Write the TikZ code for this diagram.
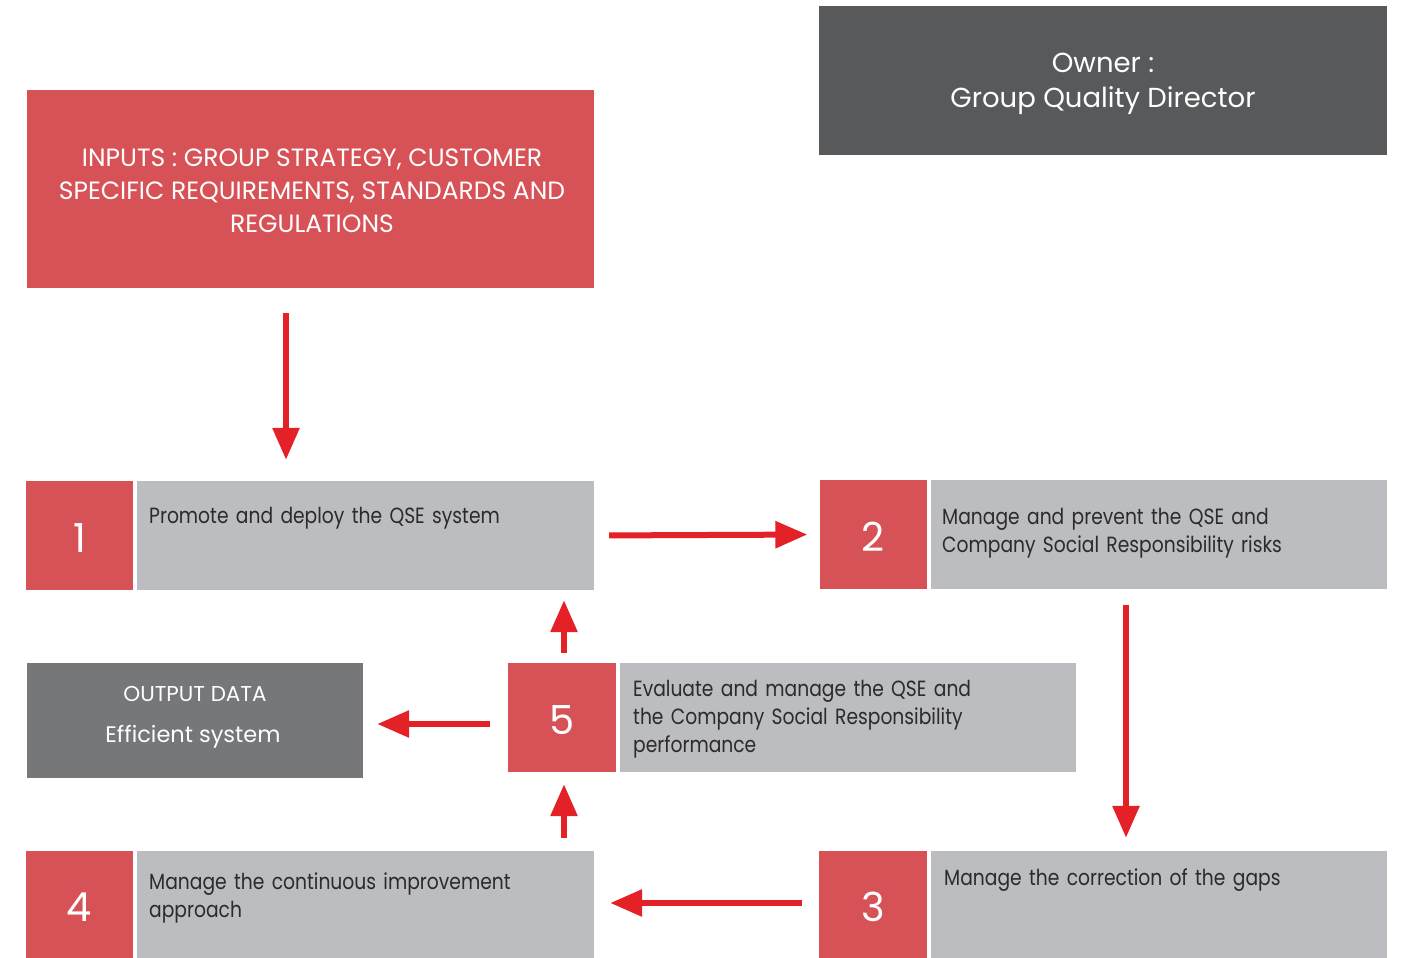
\documentclass[tikz,border=0pt]{standalone}
\usepackage{fontspec}
\setmainfont{Poppins}
\newfontfamily\descfont[FakeStretch=0.85]{Poppins}
\usetikzlibrary{arrows.meta}
\definecolor{boxred}{HTML}{D75257}
\definecolor{arrred}{HTML}{E42127}
\definecolor{darkg}{HTML}{58595B}
\definecolor{midg}{HTML}{767779}
\definecolor{lightg}{HTML}{BCBDC0}
\definecolor{txt}{HTML}{2B2A2C}
\tikzset{
  numbox/.style={fill=boxred, text=white, inner sep=0, minimum width=107pt, minimum height=109pt, text height=33pt, text depth=0pt, font=\fontsize{40}{40}\selectfont},
  graybox/.style={fill=lightg, inner sep=0, minimum width=457pt, minimum height=109pt},
  desc/.style={anchor=base west, inner sep=0, text=txt, align=left, text width=430pt, font=\descfont\fontsize{22}{28}\selectfont},
  arr/.style={draw=arrred, line width=6pt, -{Triangle[width=26pt,length=32pt]}},
}
\begin{document}
\begin{tikzpicture}[x=1pt,y=-1pt]
\useasboundingbox (0,0) rectangle (1401,958);
% header boxes
\node[fill=darkg, inner sep=0, minimum width=568pt, minimum height=149pt] (owner) at (1103,80.5) {};
\node[text=white, inner sep=0, align=center, font=\fontsize{27.5}{35}\selectfont] (ownertext) at (1103,84) {Owner :\\Group Quality Director};
\node[fill=boxred, inner sep=0, minimum width=567pt, minimum height=198pt] (inputs) at (310.5,189) {};
\node[text=white, inner sep=0, align=center, font=\fontsize{25}{33}\selectfont] (inputstext) at (312,191) {INPUTS : GROUP STRATEGY, CUSTOMER\\SPECIFIC REQUIREMENTS, STANDARDS AND\\REGULATIONS};
% step 1
\node[numbox] (n1) at (79.5,535.5) {1};
\node[graybox] (t1) at (365.5,535.5) {};
\node[desc] (d1) at (149,523) {Promote and deploy the QSE system};
% step 2
\node[numbox] (n2) at (873,534.5) {2};
\node[graybox, minimum width=456pt] (t2) at (1159,534.5) {};
\node[desc] (d2) at (942,524) {Manage and prevent the QSE and\\Company Social Responsibility risks};
% step 3
\node[numbox, minimum width=108pt, minimum height=107pt] (n3) at (873,904.5) {3};
\node[graybox, minimum width=456pt, minimum height=107pt] (t3) at (1159,904.5) {};
\node[desc] (d3) at (944,885) {Manage the correction of the gaps};
% step 4
\node[numbox, minimum height=107pt] (n4) at (79.5,904.5) {4};
\node[graybox, minimum height=107pt] (t4) at (365.5,904.5) {};
\node[desc] (d4) at (149,889.5) {Manage the continuous improvement\\approach};
% step 5
\node[numbox, minimum width=108pt] (n5) at (562,717.5) {5};
\node[graybox, minimum width=456pt] (t5) at (848,717.5) {};
\node[desc] (d5) at (633,696.5) {Evaluate and manage the QSE and\\the Company Social Responsibility\\performance};
% output
\node[fill=midg, inner sep=0, minimum width=336pt, minimum height=115pt] (out) at (195,720.5) {};
\node[text=white, inner sep=0, font=\fontsize{21.5}{21.5}\selectfont] (o1) at (195,694) {OUTPUT DATA};
\node[text=white, inner sep=0, font=\fontsize{22.5}{22.5}\selectfont] (o2) at (193,737) {Efficient system};
% arrows
\draw[arr, shorten <=25pt, shorten >=21pt] ([xshift=-24.5pt]inputs.south) -- ([xshift=-79.5pt]t1.north);
\draw[arr, shorten <=15pt, shorten >=12pt] (t1.east) -- (n2.west);
\draw[arr, shorten <=16pt, shorten >=13pt] ([xshift=-33pt]t2.south) -- ([xshift=-33pt]t3.north);
\draw[arr, shorten <=17pt, shorten >=16pt] ([yshift=1.5pt]n3.west) -- ([yshift=1.5pt]t4.east);
\draw[arr, shorten <=13pt, shorten >=12pt] ([xshift=2pt]n5.south |- t4.north) -- ([xshift=2pt]n5.south);
\draw[arr, shorten <=10pt, shorten >=10pt] ([xshift=2pt]n5.north) -- ([xshift=2pt]n5.north |- t1.south);
\draw[arr, shorten <=18pt, shorten >=14pt] ([yshift=-6.5pt]n5.west) -- (out.east |- {(0,724)});
\end{tikzpicture}
\end{document}
